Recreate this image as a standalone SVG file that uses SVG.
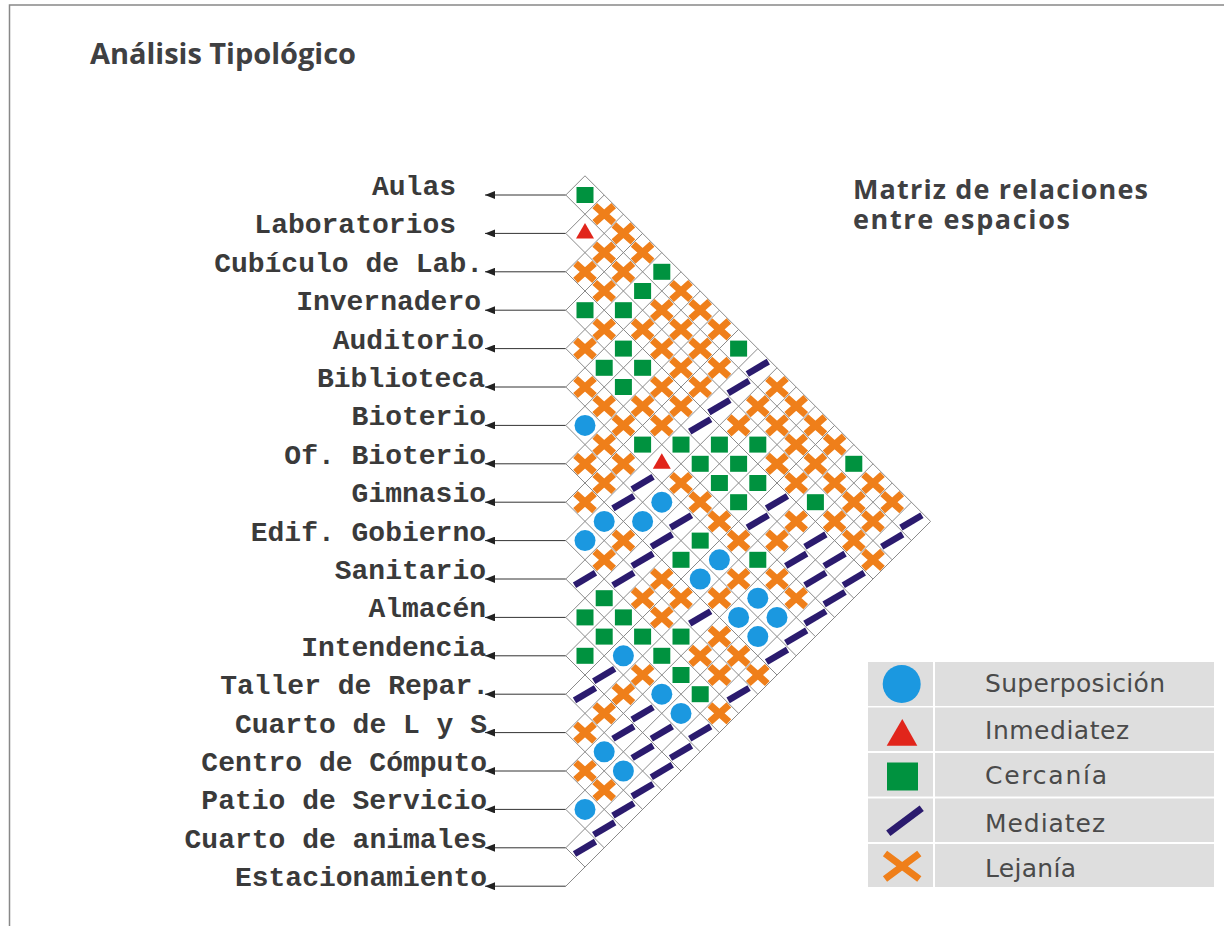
<svg xmlns="http://www.w3.org/2000/svg" width="1224" height="926" viewBox="0 0 1224 926">
<style>
.lbl{font-family:"Liberation Mono","Courier New",monospace;font-weight:bold;font-size:28px;fill:#3a3a3a;text-anchor:end}
.ttl{font-family:"Open Sans","Liberation Sans",Arial,sans-serif;font-weight:bold;fill:#3f4042}
.leg{font-family:"DejaVu Sans","Liberation Sans",sans-serif;font-size:25px;fill:#4a4a4a}
.con{stroke:#333;stroke-width:1;fill:none}
.grid{stroke:#8a8a8a;stroke-width:1;fill:none}
.lcell{fill:#dedede}
</style>
<defs>
<marker id="arr" viewBox="0 0 10 8" refX="10" refY="4" markerWidth="10" markerHeight="8" markerUnits="userSpaceOnUse" orient="auto"><path d="M0,0 L10,4 L0,8 z" fill="#222"/></marker>
<g id="G"><rect x="-8.5" y="-8" width="17" height="16" fill="#00923f"/></g>
<g id="X"><path d="M-9.5,-8.5 L9.5,8.5 M-9.5,8.5 L9.5,-8.5" stroke="#ef7f1a" stroke-width="7" fill="none"/></g>
<g id="C"><circle r="10.5" fill="#1b98e0"/></g>
<g id="T"><polygon points="0,-10.5 9,5 -9,5" fill="#e1251b"/></g>
<g id="D"><line x1="-10.5" y1="6.2" x2="10.5" y2="-6.2" stroke="#2b1b6e" stroke-width="6.5"/></g>
</defs>
<rect width="1224" height="926" fill="#fff"/>
<path d="M9.5,926 L9.5,5 L1224,5" stroke="#888" stroke-width="1.5" fill="none"/>
<g id="title"><text class="ttl" x="90" y="64" font-size="29" textLength="266">Análisis Tipológico</text></g>
<g id="subtitle">
<text class="ttl" font-size="27"><tspan x="853" y="199" textLength="295">Matriz de relaciones</tspan><tspan x="853" y="229" textLength="217">entre espacios</tspan></text>
</g>
<g id="labels">
<g id="n0"><text class="lbl" x="456" y="195">Aulas</text></g>
<g id="n1"><text class="lbl" x="456" y="233.4">Laboratorios</text></g>
<g id="n2"><text class="lbl" x="483" y="271.8">Cubículo de Lab.</text></g>
<g id="n3"><text class="lbl" x="481" y="310.2">Invernadero</text></g>
<g id="n4"><text class="lbl" x="484" y="348.6">Auditorio</text></g>
<g id="n5"><text class="lbl" x="485" y="387">Biblioteca</text></g>
<g id="n6"><text class="lbl" x="486" y="425.4">Bioterio</text></g>
<g id="n7"><text class="lbl" x="486" y="463.8">Of. Bioterio</text></g>
<g id="n8"><text class="lbl" x="486" y="502.2">Gimnasio</text></g>
<g id="n9"><text class="lbl" x="486" y="540.6">Edif. Gobierno</text></g>
<g id="n10"><text class="lbl" x="486" y="579">Sanitario</text></g>
<g id="n11"><text class="lbl" x="486" y="617.4">Almacén</text></g>
<g id="n12"><text class="lbl" x="486" y="655.8">Intendencia</text></g>
<g id="n13"><text class="lbl" x="489" y="694.2">Taller de Repar.</text></g>
<g id="n14"><text class="lbl" x="487" y="732.6">Cuarto de L y S</text></g>
<g id="n15"><text class="lbl" x="487" y="771">Centro de Cómputo</text></g>
<g id="n16"><text class="lbl" x="487" y="809.4">Patio de Servicio</text></g>
<g id="n17"><text class="lbl" x="487" y="847.8">Cuarto de animales</text></g>
<g id="n18"><text class="lbl" x="487" y="886.2">Estacionamiento</text></g>
</g>
<g id="connectors">
<line class="con" x1="565.8" y1="195" x2="485" y2="195" marker-end="url(#arr)"/>
<line class="con" x1="565.8" y1="233.4" x2="485" y2="233.4" marker-end="url(#arr)"/>
<line class="con" x1="565.8" y1="271.8" x2="485" y2="271.8" marker-end="url(#arr)"/>
<line class="con" x1="565.8" y1="310.2" x2="485" y2="310.2" marker-end="url(#arr)"/>
<line class="con" x1="565.8" y1="348.6" x2="485" y2="348.6" marker-end="url(#arr)"/>
<line class="con" x1="565.8" y1="387" x2="485" y2="387" marker-end="url(#arr)"/>
<line class="con" x1="565.8" y1="425.4" x2="485" y2="425.4" marker-end="url(#arr)"/>
<line class="con" x1="565.8" y1="463.8" x2="485" y2="463.8" marker-end="url(#arr)"/>
<line class="con" x1="565.8" y1="502.2" x2="485" y2="502.2" marker-end="url(#arr)"/>
<line class="con" x1="565.8" y1="540.6" x2="485" y2="540.6" marker-end="url(#arr)"/>
<line class="con" x1="565.8" y1="579" x2="485" y2="579" marker-end="url(#arr)"/>
<line class="con" x1="565.8" y1="617.4" x2="485" y2="617.4" marker-end="url(#arr)"/>
<line class="con" x1="565.8" y1="655.8" x2="485" y2="655.8" marker-end="url(#arr)"/>
<line class="con" x1="565.8" y1="694.2" x2="485" y2="694.2" marker-end="url(#arr)"/>
<line class="con" x1="565.8" y1="732.6" x2="485" y2="732.6" marker-end="url(#arr)"/>
<line class="con" x1="565.8" y1="771" x2="485" y2="771" marker-end="url(#arr)"/>
<line class="con" x1="565.8" y1="809.4" x2="485" y2="809.4" marker-end="url(#arr)"/>
<line class="con" x1="565.8" y1="847.8" x2="485" y2="847.8" marker-end="url(#arr)"/>
<line class="con" x1="565.8" y1="886.2" x2="485" y2="886.2" marker-end="url(#arr)"/>
</g>
<g id="matrix">
<path class="grid" d="M585,175.8 L930.6,521.4 M565.8,195 L911.4,540.6 M565.8,233.4 L892.2,559.8 M565.8,271.8 L873,579 M565.8,310.2 L853.8,598.2 M565.8,348.6 L834.6,617.4 M565.8,387 L815.4,636.6 M565.8,425.4 L796.2,655.8 M565.8,463.8 L777,675 M565.8,502.2 L757.8,694.2 M565.8,540.6 L738.6,713.4 M565.8,579 L719.4,732.6 M565.8,617.4 L700.2,751.8 M565.8,655.8 L681,771 M565.8,694.2 L661.8,790.2 M565.8,732.6 L642.6,809.4 M565.8,771 L623.4,828.6 M565.8,809.4 L604.2,847.8 M565.8,847.8 L585,867 M565.8,195 L585,175.8 M565.8,233.4 L604.2,195 M565.8,271.8 L623.4,214.2 M565.8,310.2 L642.6,233.4 M565.8,348.6 L661.8,252.6 M565.8,387 L681,271.8 M565.8,425.4 L700.2,291 M565.8,463.8 L719.4,310.2 M565.8,502.2 L738.6,329.4 M565.8,540.6 L757.8,348.6 M565.8,579 L777,367.8 M565.8,617.4 L796.2,387 M565.8,655.8 L815.4,406.2 M565.8,694.2 L834.6,425.4 M565.8,732.6 L853.8,444.6 M565.8,771 L873,463.8 M565.8,809.4 L892.2,483 M565.8,847.8 L911.4,502.2 M565.8,886.2 L930.6,521.4"/>
<use href="#G" x="585" y="195"/>
<use href="#X" x="604.2" y="214.2"/>
<use href="#X" x="623.4" y="233.4"/><use href="#T" x="585" y="233.4"/>
<use href="#X" x="642.6" y="252.6"/><use href="#X" x="604.2" y="252.6"/>
<use href="#G" x="661.8" y="271.8"/><use href="#X" x="623.4" y="271.8"/><use href="#X" x="585" y="271.8"/>
<use href="#X" x="681" y="291"/><use href="#G" x="642.6" y="291"/><use href="#X" x="604.2" y="291"/>
<use href="#X" x="700.2" y="310.2"/><use href="#X" x="661.8" y="310.2"/><use href="#G" x="623.4" y="310.2"/><use href="#G" x="585" y="310.2"/>
<use href="#X" x="719.4" y="329.4"/><use href="#X" x="681" y="329.4"/><use href="#X" x="642.6" y="329.4"/><use href="#X" x="604.2" y="329.4"/>
<use href="#G" x="738.6" y="348.6"/><use href="#X" x="700.2" y="348.6"/><use href="#X" x="661.8" y="348.6"/><use href="#G" x="623.4" y="348.6"/><use href="#X" x="585" y="348.6"/>
<use href="#D" x="757.8" y="367.8"/><use href="#X" x="719.4" y="367.8"/><use href="#X" x="681" y="367.8"/><use href="#G" x="642.6" y="367.8"/><use href="#G" x="604.2" y="367.8"/>
<use href="#X" x="777" y="387"/><use href="#D" x="738.6" y="387"/><use href="#X" x="700.2" y="387"/><use href="#X" x="661.8" y="387"/><use href="#G" x="623.4" y="387"/><use href="#X" x="585" y="387"/>
<use href="#X" x="796.2" y="406.2"/><use href="#X" x="757.8" y="406.2"/><use href="#D" x="719.4" y="406.2"/><use href="#X" x="681" y="406.2"/><use href="#X" x="642.6" y="406.2"/><use href="#X" x="604.2" y="406.2"/>
<use href="#X" x="815.4" y="425.4"/><use href="#X" x="777" y="425.4"/><use href="#X" x="738.6" y="425.4"/><use href="#D" x="700.2" y="425.4"/><use href="#X" x="661.8" y="425.4"/><use href="#X" x="623.4" y="425.4"/><use href="#C" x="585" y="425.4"/>
<use href="#X" x="834.6" y="444.6"/><use href="#X" x="796.2" y="444.6"/><use href="#G" x="757.8" y="444.6"/><use href="#G" x="719.4" y="444.6"/><use href="#G" x="681" y="444.6"/><use href="#G" x="642.6" y="444.6"/><use href="#X" x="604.2" y="444.6"/>
<use href="#G" x="853.8" y="463.8"/><use href="#X" x="815.4" y="463.8"/><use href="#X" x="777" y="463.8"/><use href="#G" x="738.6" y="463.8"/><use href="#G" x="700.2" y="463.8"/><use href="#T" x="661.8" y="463.8"/><use href="#X" x="623.4" y="463.8"/><use href="#X" x="585" y="463.8"/>
<use href="#X" x="873" y="483"/><use href="#X" x="834.6" y="483"/><use href="#X" x="796.2" y="483"/><use href="#G" x="757.8" y="483"/><use href="#G" x="719.4" y="483"/><use href="#X" x="681" y="483"/><use href="#D" x="642.6" y="483"/><use href="#X" x="604.2" y="483"/>
<use href="#X" x="892.2" y="502.2"/><use href="#X" x="853.8" y="502.2"/><use href="#G" x="815.4" y="502.2"/><use href="#D" x="777" y="502.2"/><use href="#G" x="738.6" y="502.2"/><use href="#X" x="700.2" y="502.2"/><use href="#C" x="661.8" y="502.2"/><use href="#D" x="623.4" y="502.2"/><use href="#X" x="585" y="502.2"/>
<use href="#D" x="911.4" y="521.4"/><use href="#X" x="873" y="521.4"/><use href="#X" x="834.6" y="521.4"/><use href="#X" x="796.2" y="521.4"/><use href="#D" x="757.8" y="521.4"/><use href="#X" x="719.4" y="521.4"/><use href="#D" x="681" y="521.4"/><use href="#C" x="642.6" y="521.4"/><use href="#C" x="604.2" y="521.4"/>
<use href="#D" x="892.2" y="540.6"/><use href="#X" x="853.8" y="540.6"/><use href="#D" x="815.4" y="540.6"/><use href="#X" x="777" y="540.6"/><use href="#X" x="738.6" y="540.6"/><use href="#G" x="700.2" y="540.6"/><use href="#D" x="661.8" y="540.6"/><use href="#X" x="623.4" y="540.6"/><use href="#C" x="585" y="540.6"/>
<use href="#X" x="873" y="559.8"/><use href="#D" x="834.6" y="559.8"/><use href="#D" x="796.2" y="559.8"/><use href="#G" x="757.8" y="559.8"/><use href="#C" x="719.4" y="559.8"/><use href="#G" x="681" y="559.8"/><use href="#D" x="642.6" y="559.8"/><use href="#X" x="604.2" y="559.8"/>
<use href="#D" x="853.8" y="579"/><use href="#D" x="815.4" y="579"/><use href="#X" x="777" y="579"/><use href="#X" x="738.6" y="579"/><use href="#C" x="700.2" y="579"/><use href="#X" x="661.8" y="579"/><use href="#D" x="623.4" y="579"/><use href="#D" x="585" y="579"/>
<use href="#D" x="834.6" y="598.2"/><use href="#X" x="796.2" y="598.2"/><use href="#C" x="757.8" y="598.2"/><use href="#X" x="719.4" y="598.2"/><use href="#X" x="681" y="598.2"/><use href="#X" x="642.6" y="598.2"/><use href="#G" x="604.2" y="598.2"/>
<use href="#D" x="815.4" y="617.4"/><use href="#C" x="777" y="617.4"/><use href="#C" x="738.6" y="617.4"/><use href="#D" x="700.2" y="617.4"/><use href="#X" x="661.8" y="617.4"/><use href="#G" x="623.4" y="617.4"/><use href="#G" x="585" y="617.4"/>
<use href="#D" x="796.2" y="636.6"/><use href="#C" x="757.8" y="636.6"/><use href="#X" x="719.4" y="636.6"/><use href="#G" x="681" y="636.6"/><use href="#G" x="642.6" y="636.6"/><use href="#G" x="604.2" y="636.6"/>
<use href="#D" x="777" y="655.8"/><use href="#X" x="738.6" y="655.8"/><use href="#X" x="700.2" y="655.8"/><use href="#G" x="661.8" y="655.8"/><use href="#C" x="623.4" y="655.8"/><use href="#G" x="585" y="655.8"/>
<use href="#X" x="757.8" y="675"/><use href="#X" x="719.4" y="675"/><use href="#G" x="681" y="675"/><use href="#X" x="642.6" y="675"/><use href="#D" x="604.2" y="675"/>
<use href="#D" x="738.6" y="694.2"/><use href="#G" x="700.2" y="694.2"/><use href="#C" x="661.8" y="694.2"/><use href="#X" x="623.4" y="694.2"/><use href="#D" x="585" y="694.2"/>
<use href="#X" x="719.4" y="713.4"/><use href="#C" x="681" y="713.4"/><use href="#D" x="642.6" y="713.4"/><use href="#X" x="604.2" y="713.4"/>
<use href="#D" x="700.2" y="732.6"/><use href="#D" x="661.8" y="732.6"/><use href="#D" x="623.4" y="732.6"/><use href="#X" x="585" y="732.6"/>
<use href="#D" x="681" y="751.8"/><use href="#D" x="642.6" y="751.8"/><use href="#C" x="604.2" y="751.8"/>
<use href="#D" x="661.8" y="771"/><use href="#C" x="623.4" y="771"/><use href="#X" x="585" y="771"/>
<use href="#D" x="642.6" y="790.2"/><use href="#X" x="604.2" y="790.2"/>
<use href="#D" x="623.4" y="809.4"/><use href="#C" x="585" y="809.4"/>
<use href="#D" x="604.2" y="828.6"/>
<use href="#D" x="585" y="847.8"/>
</g>
<g id="legend">
<rect class="lcell" x="868" y="662" width="65" height="44"/><rect class="lcell" x="935" y="662" width="279" height="44"/>
<rect class="lcell" x="868" y="707.5" width="65" height="43.5"/><rect class="lcell" x="935" y="707.5" width="279" height="43.5"/>
<rect class="lcell" x="868" y="753" width="65" height="43.5"/><rect class="lcell" x="935" y="753" width="279" height="43.5"/>
<rect class="lcell" x="868" y="798.5" width="65" height="43.5"/><rect class="lcell" x="935" y="798.5" width="279" height="43.5"/>
<rect class="lcell" x="868" y="844" width="65" height="43"/><rect class="lcell" x="935" y="844" width="279" height="43"/>
<circle cx="901.7" cy="684" r="19" fill="#1b98e0"/>
<polygon points="902.3,719 886.7,745.7 917.3,745.7" fill="#e1251b"/>
<rect x="887" y="762.5" width="31" height="28" fill="#00923f"/>
<line x1="888.3" y1="833.3" x2="921.7" y2="808.3" stroke="#2b1b6e" stroke-width="7"/>
<path d="M885,853.5 L919.3,879 M885,879 L919.3,853.5" stroke="#ef7f1a" stroke-width="7" fill="none"/>
<text class="leg" x="985" y="692" textLength="180">Superposición</text>
<text class="leg" x="985" y="738.5" textLength="144">Inmediatez</text>
<text class="leg" x="985" y="784" textLength="122">Cercanía</text>
<text class="leg" x="985" y="831.5" textLength="120">Mediatez</text>
<text class="leg" x="985" y="876.5" textLength="91">Lejanía</text>
</g>
</svg>
